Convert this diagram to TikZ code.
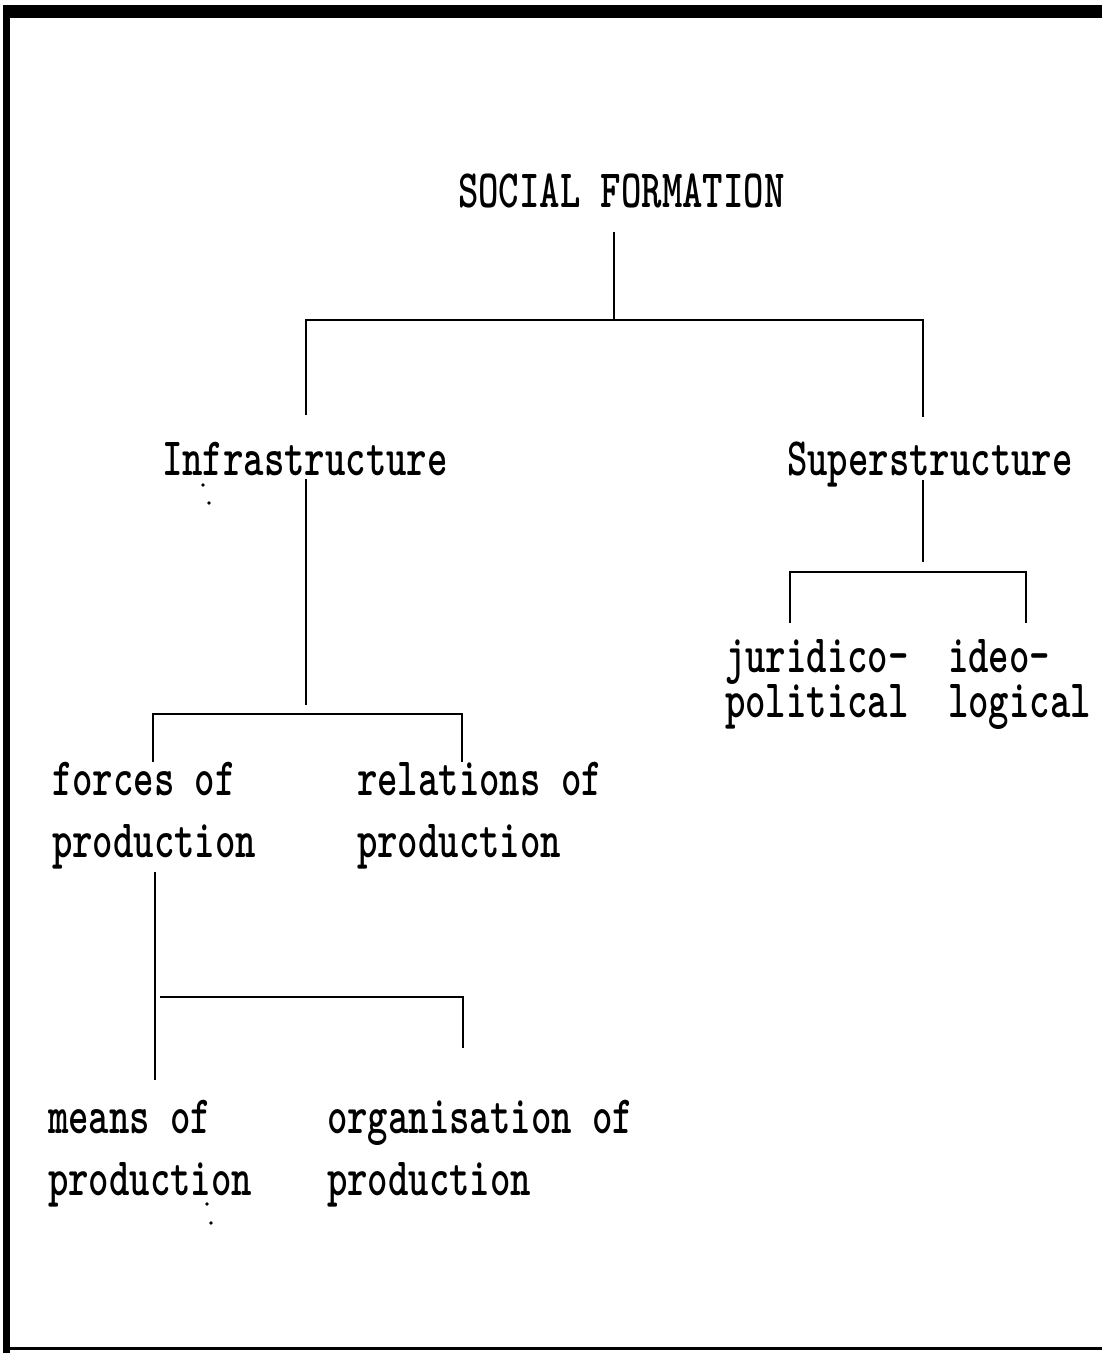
\documentclass[tikz,border=0pt]{standalone}
\usepackage{graphicx}
\tikzset{
  lab/.style={inner sep=0pt, outer sep=0pt, anchor=base west,
              font=\fontsize{54}{62}\selectfont\ttfamily\bfseries},
  tree/.style={line width=2pt, line cap=butt},
  frame/.style={fill=black},
  speck/.style={fill=black},
}
\newcommand\sq[1]{\scalebox{0.72}[1]{#1}}
\newcommand\two[3]{\scalebox{0.72}[1]{\vtop{\baselineskip=#3\relax\hbox{#1}\hbox{#2}}}}
\begin{document}
\begin{tikzpicture}[x=1pt,y=-1pt]
\useasboundingbox (0,0) rectangle (1102,1353);
% frame
\fill[frame] (3,5) rectangle (1102,18);
\fill[frame] (3,5) rectangle (10,1353);
\fill[frame] (10,1347) rectangle (1102,1350);

% labels
\node[lab] (sf) at (458,207) {\sq{SOCIAL FORMATION}};
\node[lab] (inf) at (162,475) {\sq{Infrastructure}};
\node[lab] (sup) at (787,475) {\sq{Superstructure}};
\node[lab] (jur) at (725,672) {\two{juridico-}{political}{45pt}};
\node[lab] (ideo) at (948,672) {\two{ideo-}{logical}{45pt}};
\node[lab] (forc) at (52,795) {\two{forces of}{production}{62pt}};
\node[lab] (rel) at (357,795) {\two{relations of}{production}{62pt}};
\node[lab] (mean) at (48,1133) {\two{means of}{production}{62pt}};
\node[lab] (org) at (327,1133) {\two{organisation of}{production}{62pt}};

% junction coordinates
\coordinate (sfb) at (614,232);
\coordinate (j1) at (614,320);
\coordinate (j1l) at (306,320);
\coordinate (j1r) at (923,320);
\coordinate (infa) at (306,415);
\coordinate (supa) at (923,417);
\coordinate (infb) at (306,479);
\coordinate (j2) at (306,705);
\coordinate (j2l) at (153,714);
\coordinate (j2r) at (462,714);
\coordinate (forca) at (153,762);
\coordinate (rela) at (462,762);
\coordinate (supb) at (923,480);
\coordinate (j3) at (923,562);
\coordinate (j3l) at (790,572);
\coordinate (j3r) at (1026,572);
\coordinate (jura) at (790,623);
\coordinate (ideoa) at (1026,623);
\coordinate (forcb) at (155,872);
\coordinate (forcc) at (155,1080);
\coordinate (j4l) at (160,997);
\coordinate (j4r) at (463,997);
\coordinate (orga) at (463,1048);

% tree
\draw[tree] (sfb) -- (j1);
\draw[tree] (infa) -- (j1l) -- (j1r) -- (supa);
\draw[tree] (infb) -- (j2);
\draw[tree] (forca) -- (j2l) -- (j2r) -- (rela);
\draw[tree] (supb) -- (j3);
\draw[tree] (jura) -- (j3l) -- (j3r) -- (ideoa);
\draw[tree] (forcb) -- (forcc);
\draw[tree] (j4l) -- (j4r) -- (orga);

% specks
\fill[speck] (203,485) circle (1.8);
\fill[speck] (209,503) circle (1.8);
\fill[speck] (207,1204) circle (1.8);
\fill[speck] (211,1223) circle (1.8);
\end{tikzpicture}
\end{document}
